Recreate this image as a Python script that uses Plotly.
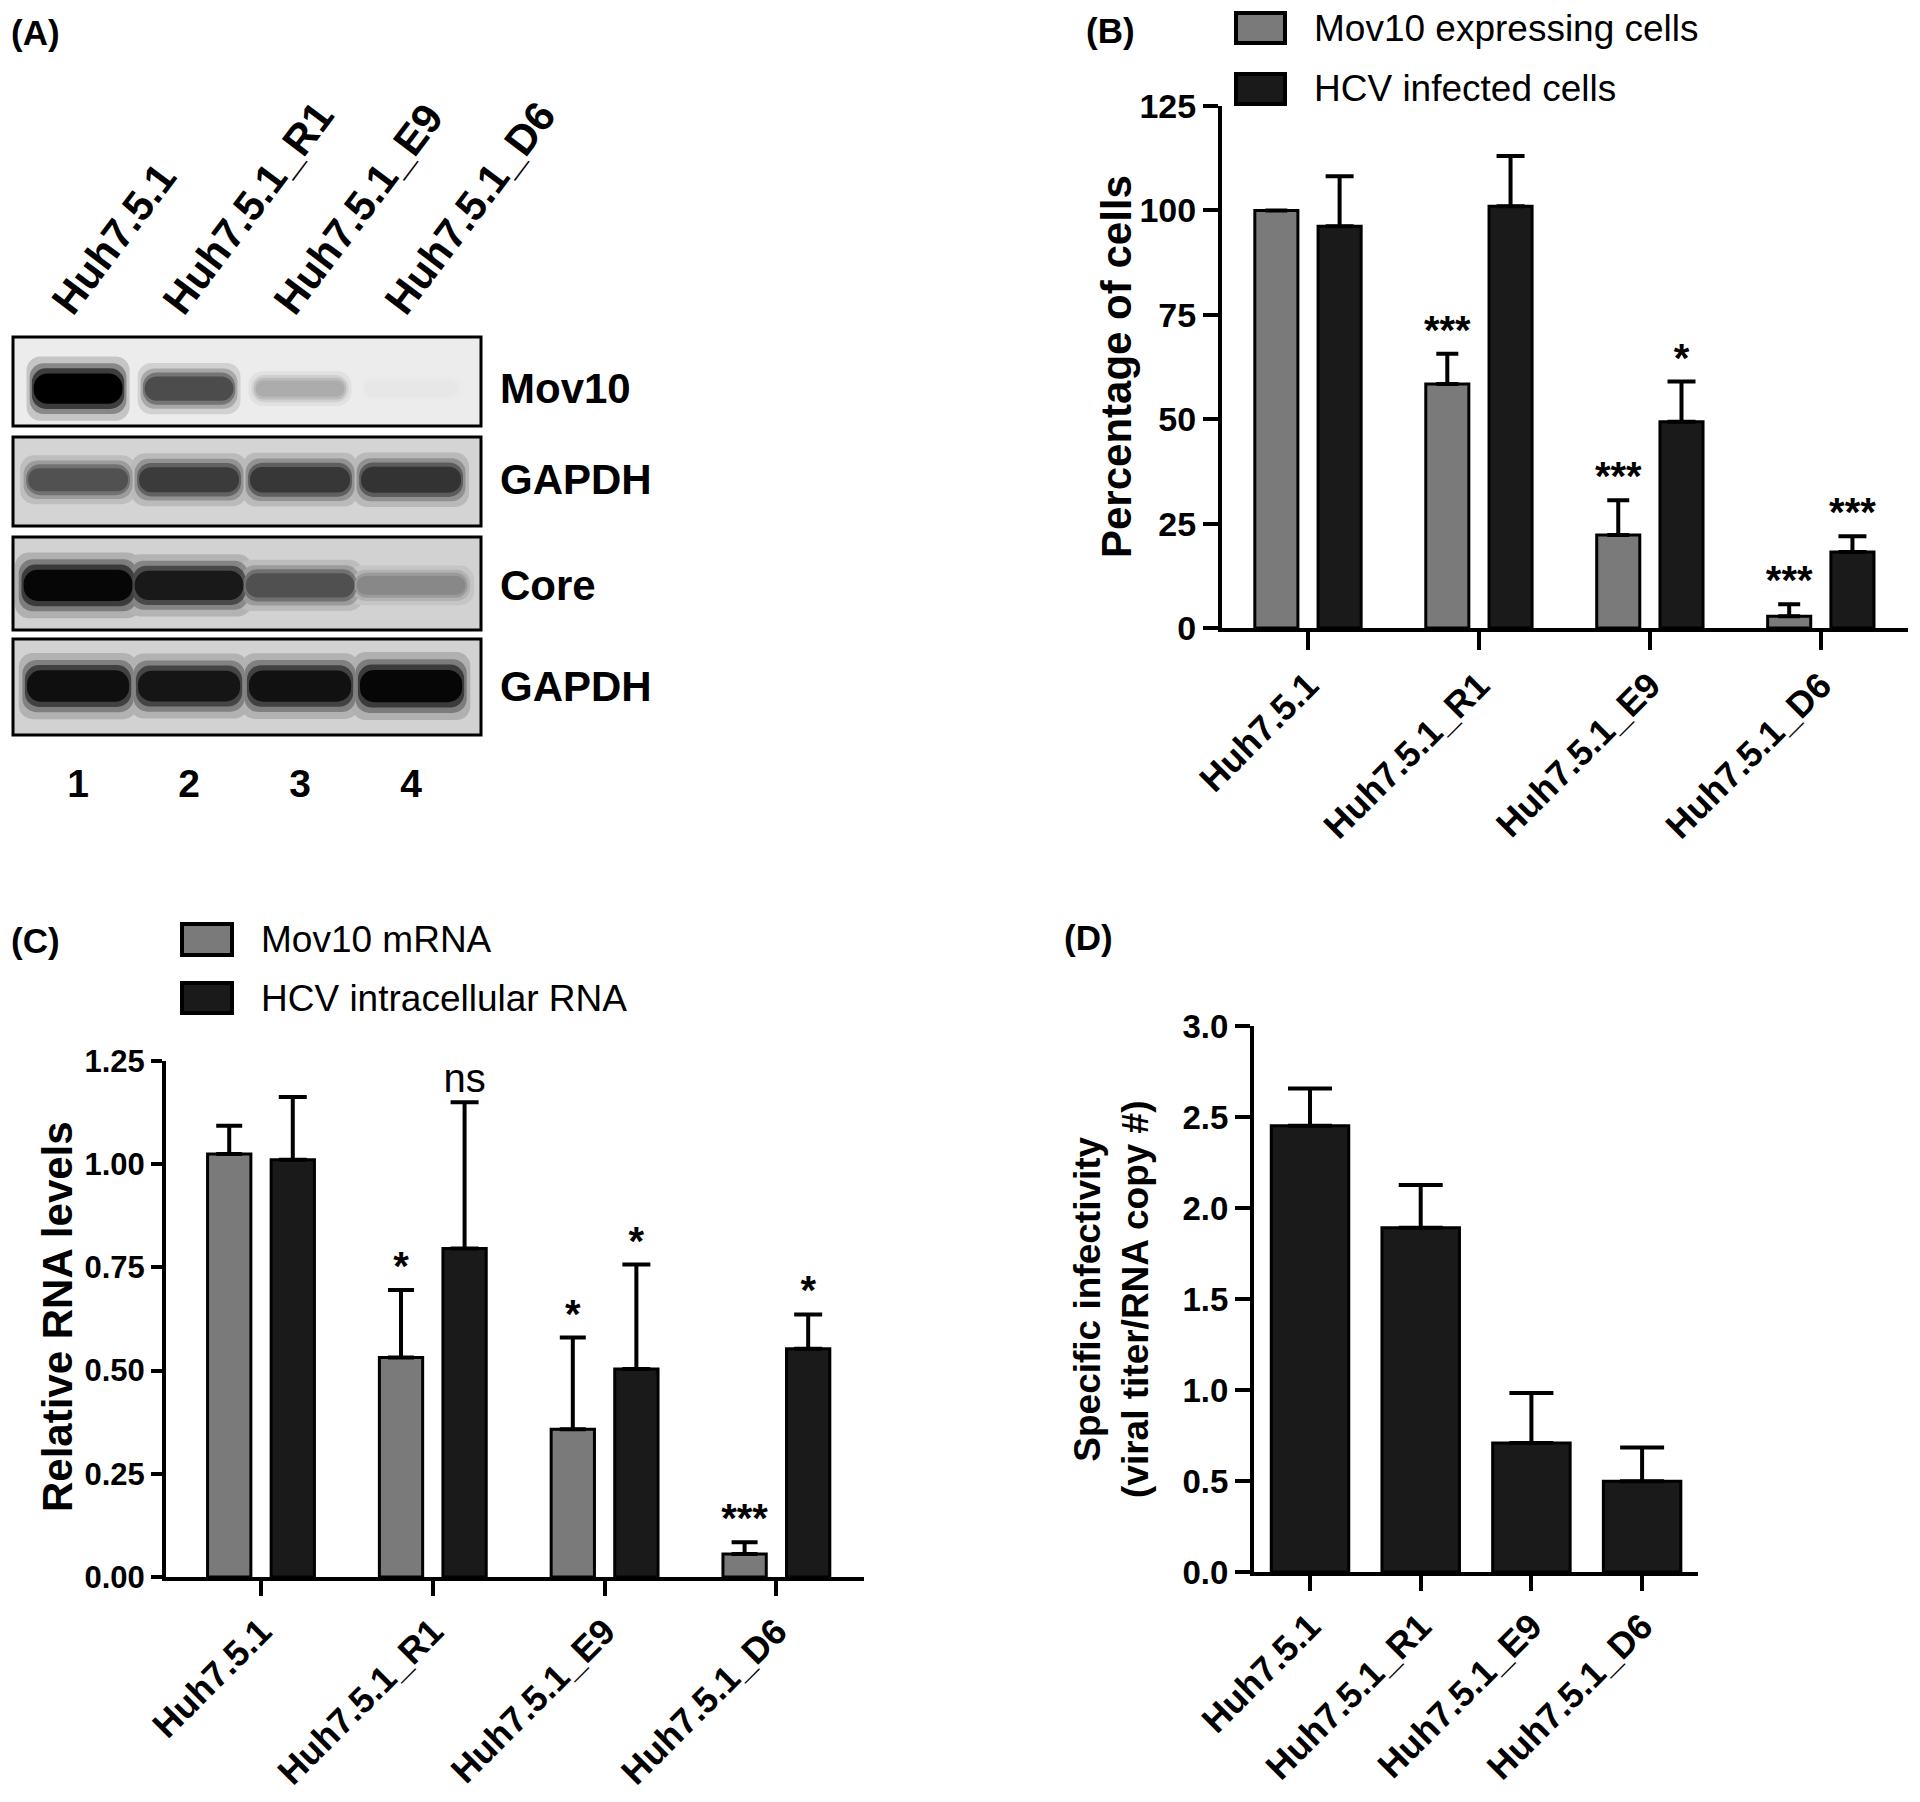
import plotly.graph_objects as go

W, H = 1920, 1802
OFF = 8  # page body margin in the browser
SANS = "Liberation Sans, Arial, sans-serif"

cells = ["Huh7.5.1", "Huh7.5.1_R1", "Huh7.5.1_E9", "Huh7.5.1_D6"]
lanes = [1, 2, 3, 4]
lane_numbers = ["1", "2", "3", "4"]

# (A) western blot, band darkness per lane (0 = no band, 1 = saturated)
blot_rows = ["Mov10", "GAPDH", "Core", "GAPDH"]
band_mov10 = [1.0, 0.68, 0.27, 0.02]
band_gapdh1 = [0.62, 0.72, 0.74, 0.76]
band_core = [0.97, 0.88, 0.62, 0.35]
band_gapdh2 = [0.93, 0.90, 0.92, 0.97]

# (B) percentage of cells
mov10_cells = [100, 58.4, 22.3, 2.8]
mov10_cells_sem = [0, 7.3, 8.3, 2.9]
hcv_cells = [96.2, 101, 49.4, 18.2]
hcv_cells_sem = [12, 12, 9.6, 3.8]
sig_b_mov10 = ["", "***", "***", "***"]
sig_b_hcv = ["", "", "*", "***"]

# (C) relative RNA levels
mov10_rna = [1.025, 0.532, 0.358, 0.056]
mov10_rna_sem = [0.068, 0.163, 0.222, 0.028]
hcv_rna = [1.011, 0.796, 0.504, 0.553]
hcv_rna_sem = [0.152, 0.354, 0.253, 0.083]
sig_c_mov10 = ["", "*", "*", "***"]
sig_c_hcv = ["", "ns", "*", "*"]

# (D) specific infectivity
infectivity = [2.452, 1.891, 0.709, 0.498]
infectivity_sem = [0.205, 0.236, 0.274, 0.186]

GRAY = "#7a7a7a"
BLACK = "#1a1a1a"
pos = [0, 1, 2, 3]


def px(x):
    return (x - OFF) / W


def py(y):
    return 1 - (y - OFF) / H


def xd(a, b):
    return [px(a), px(b)]


def yd(top, bot):
    return [py(bot), py(top)]


def bold(size):
    return dict(family=SANS, size=size, color="black", weight="bold")


def sfx(i):
    return "" if i == 1 else str(i)


fig = go.Figure()
layout = dict(
    width=W, height=H, margin=dict(l=0, r=0, t=0, b=0, autoexpand=False),
    paper_bgcolor="white", plot_bgcolor="white",
    showlegend=False, barmode="overlay",
    font=dict(family=SANS, color="black"),
)
shapes = []
annotations = []

# ---- (A) blot rows ----
# row: (darkness, background, band centre, band width, top px, bottom px)
rows = [
    (band_mov10, 236, 0.42, 0.80, 337, 426),
    (band_gapdh1, 212, 0.52, 0.90, 437, 526),
    (band_core, 210, 0.48, 0.98, 537, 630),
    (band_gapdh2, 210, 0.51, 0.92, 639, 735),
]
halo = [(1.16, 1.9, 0.16), (1.09, 1.5, 0.3), (1.04, 1.2, 0.55), (1.0, 0.9, 1.0)]
for i, (dark, bg, cen, bw, top, bot) in enumerate(rows, start=1):
    s = sfx(i)
    for sw, sh, op in halo:
        thick = [(0.14 + 0.24 * d) * sh for d in dark]
        cols = ["rgb({0},{0},{0})".format(round(bg * (1 - d))) for d in dark]
        fig.add_trace(go.Bar(
            x=lanes, y=thick, base=[cen - t / 2 for t in thick],
            width=bw * sw, opacity=op,
            marker=dict(color=cols, line_width=0, cornerradius=14),
            xaxis="x" + s, yaxis="y" + s, hoverinfo="skip",
        ))
    xa = dict(domain=xd(13, 481), anchor="y" + s, range=[0.414, 4.63], automargin=False,
              showgrid=False, zeroline=False, showline=False, ticks="",
              showticklabels=False, fixedrange=True)
    if i == 1:
        xa.update(side="top", showticklabels=True, tickvals=lanes, ticktext=cells,
                  tickangle=-53, tickfont=bold(42), ticklabelstandoff=2,
                  ticklabelshift=-22)
    if i == 4:
        xa.update(showticklabels=True, tickvals=lanes, ticktext=lane_numbers,
                  tickfont=bold(39), ticklabelstandoff=22)
    layout["xaxis" + s] = xa
    layout["yaxis" + s] = dict(
        domain=yd(top, bot), anchor="x" + s, range=[0, 1], side="right", automargin=False,
        showgrid=False, zeroline=False, showline=False, ticks="",
        tickvals=[cen], ticktext=[blot_rows[i - 1]], tickfont=bold(42),
        ticklabelstandoff=18, fixedrange=True)
    shapes.append(dict(type="rect", xref=f"x{s} domain", yref=f"y{s} domain",
                       x0=0, x1=1, y0=0, y1=1, layer="below",
                       fillcolor="rgb({0},{0},{0})".format(bg), line_width=0))
    shapes.append(dict(type="rect", xref=f"x{s} domain", yref=f"y{s} domain",
                       x0=0, x1=1, y0=0, y1=1, layer="above",
                       line=dict(color="black", width=3)))


# ---- bar panels ----
def axis_style(**kw):
    d = dict(showline=True, linewidth=4, linecolor="black", ticks="outside",
             ticklen=15, tickwidth=4, tickcolor="black", showgrid=False,
             zeroline=False, fixedrange=True, automargin=False)
    d.update(kw)
    return d


def add_bars(vals, sem, color, offset, width, ax, capw):
    fig.add_trace(go.Bar(
        x=pos, y=vals, width=width, offset=offset,
        marker=dict(color=color, line=dict(color="black", width=3)),
        error_y=dict(type="data", array=sem, arrayminus=[0] * len(sem),
                     symmetric=False, color="black", thickness=4, width=capw),
        xaxis="x" + ax, yaxis="y" + ax,
    ))


def add_sig(vals, sem, labels, shift, ax, size):
    fig.add_trace(go.Scatter(
        x=[p + shift for p in pos], y=[v + e for v, e in zip(vals, sem)],
        mode="text", textposition="top center", cliponaxis=False,
        text=[f"<b>{t}</b>" if "*" in t else t for t in labels],
        textfont=dict(family=SANS, size=size, color="black"),
        xaxis="x" + ax, yaxis="y" + ax, hoverinfo="skip",
    ))


# (B)
add_bars(mov10_cells, mov10_cells_sem, GRAY, -0.311, 0.252, "5", 11)
add_bars(hcv_cells, hcv_cells_sem, BLACK, 0.059, 0.252, "5", 14)
add_sig(mov10_cells, mov10_cells_sem, sig_b_mov10, -0.185, "5", 40)
add_sig(hcv_cells, hcv_cells_sem, sig_b_hcv, 0.185, "5", 40)
layout["xaxis5"] = axis_style(domain=xd(1222, 1908), anchor="y5", range=[-0.503, 3.51],
                              tickvals=pos, ticktext=cells, tickangle=-45,
                              tickfont=bold(36), ticklen=18)
layout["yaxis5"] = axis_style(domain=yd(106, 628), anchor="x5", range=[0, 125],
                              tickvals=[0, 25, 50, 75, 100, 125],
                              tickfont=bold(34))

# (C)
add_bars(mov10_rna, mov10_rna_sem, GRAY, -0.311, 0.252, "6", 13)
add_bars(hcv_rna, hcv_rna_sem, BLACK, 0.059, 0.252, "6", 14)
add_sig(mov10_rna, mov10_rna_sem, sig_c_mov10, -0.185, "6", 40)
add_sig(hcv_rna, hcv_rna_sem, sig_c_hcv, 0.185, "6", 40)
layout["xaxis6"] = axis_style(domain=xd(166, 864), anchor="y6", range=[-0.553, 3.51],
                              tickvals=pos, ticktext=cells, tickangle=-45,
                              tickfont=bold(36))
layout["yaxis6"] = axis_style(domain=yd(1061, 1577), anchor="x6", range=[0, 1.25],
                              dtick=0.25, tick0=0, tickformat=".2f",
                              tickfont=bold(31), ticklen=11)

# (D)
add_bars(infectivity, infectivity_sem, BLACK, -0.35, 0.70, "7", 22)
layout["xaxis7"] = axis_style(domain=xd(1254, 1698), anchor="y7", range=[-0.506, 3.505],
                              tickvals=pos, ticktext=cells, tickangle=-45,
                              tickfont=bold(36))
layout["yaxis7"] = axis_style(domain=yd(1026, 1572), anchor="x7", range=[0, 3],
                              dtick=0.5, tick0=0, tickformat=".1f",
                              tickfont=bold(33))


# ---- panel letters, titles, legends ----
def note(text, x, y, font, xanchor="left", angle=0):
    annotations.append(dict(text=text, x=px(x), y=py(y), xref="paper", yref="paper",
                            xanchor=xanchor, yanchor="middle", showarrow=False,
                            textangle=angle, font=font))


note("(A)", 9, 32, bold(35))
note("(B)", 1084, 30, bold(35))
note("(C)", 9, 940, bold(35))
note("(D)", 1062, 938, bold(35))
note("Percentage of cells", 1117, 367, bold(42), "center", -90)
note("Relative RNA levels", 57, 1317, bold(42), "center", -90)
note("Specific infectivity<br>(viral titer/RNA copy #)", 1111, 1299, bold(37), "center", -90)


def legend_item(label, color, x0, x1, top, bot, size):
    shapes.append(dict(type="rect", xref="paper", yref="paper",
                       x0=px(x0), x1=px(x1), y0=py(bot), y1=py(top),
                       fillcolor=color, line=dict(color="black", width=4)))
    note(label, x1 + 27, (top + bot) / 2, dict(family=SANS, size=size, color="black"))


legend_item("Mov10 expressing cells", GRAY, 1236, 1285, 13, 43, 37)
legend_item("HCV infected cells", BLACK, 1236, 1285, 74, 104, 37)
legend_item("Mov10 mRNA", GRAY, 182, 232, 924, 955, 37)
legend_item("HCV intracellular RNA", BLACK, 182, 232, 983, 1013, 37)

layout["shapes"] = shapes
layout["annotations"] = annotations
fig.update_layout(**layout)
fig.write_html("out.html")
